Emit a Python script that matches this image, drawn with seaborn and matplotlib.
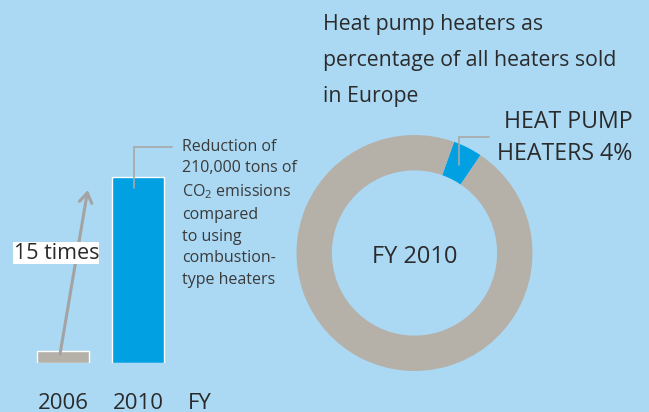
import matplotlib
matplotlib.use("Agg")
import matplotlib.pyplot as plt
import seaborn as sns
import numpy as np
import pandas as pd

# Data
years = ["2006", "2010"]
sales_index = [1, 15]            # heat pump heater sales, 2006 = 1
bar_colors = ["#B5B1A9", "#00A0E2"]
share_labels = ["Heat pump heaters", "Other heaters"]
share_values = [4, 96]          # % of all heaters sold in Europe, FY2010
ring_colors = ["#00A0E2", "#B5B1A9"]

BG = "#ABD9F4"
TXT = "#2B2B2B"
LINE = "#A8A8A8"

sns.set_style("white")
plt.rcParams["font.family"] = ["Open Sans", "DejaVu Sans"]
plt.rcParams["mathtext.fontset"] = "custom"
plt.rcParams["mathtext.rm"] = "Open Sans"
plt.rcParams["mathtext.it"] = "Open Sans:italic"

W, H = 649, 412
fig = plt.figure(figsize=(W / 100, H / 100), dpi=100, facecolor=BG)

# ---- bar chart: growth of sales ----
ax1 = fig.add_axes([0, 49 / H, 300 / W, 363 / H])
ax1.set_facecolor(BG)
df = pd.DataFrame({"year": years, "sales": sales_index})
sns.barplot(data=df, x="year", y="sales", hue="year", palette=bar_colors,
            legend=False, width=0.69, saturation=1, ax=ax1)
px_per_unit = 186 / sales_index[1]
ax1.set_xlim(-0.84, 3.16)
ax1.set_ylim(0, 363 / px_per_unit)
ax1.set_xlabel("")
ax1.set_ylabel("")
ax1.set_yticks([])
ax1.tick_params(axis="x", length=0, pad=21.5, labelsize=16, labelcolor=TXT)
for s in ax1.spines.values():
    s.set_visible(False)

# "FY" after the year labels
ax1.annotate("FY", xy=(1.83, 0), xycoords=ax1.get_xaxis_transform(),
             xytext=(0, -21.5), textcoords="offset points",
             ha="center", va="top", fontsize=16, color=TXT)

# growth arrow from 2006 level to 2010 level
ax1.annotate("", xy=(0.33, sales_index[1] * 0.93),
             xytext=(-0.04, sales_index[0] * 0.7),
             arrowprops=dict(arrowstyle="->,head_length=0.7,head_width=0.45",
                             color="#A3A3A3", lw=2.2, shrinkA=0, shrinkB=0))
ratio = sales_index[1] // sales_index[0]
ax1.text(-0.66, sales_index[1] * 0.59, f"{ratio} times", fontsize=15.5,
         color=TXT, ha="left", va="center",
         bbox=dict(facecolor="white", edgecolor="none", pad=0.3))

# callout from the 2010 bar
top = sales_index[1]
ax1.plot([0.95, 0.95, 1.45], [top - 0.9, top + 2.4, top + 2.4],
         color=LINE, lw=1.2, solid_joinstyle="miter")
ax1.text(1.59, top + 3.1,
         "Reduction of\n210,000 tons of\nCO$_\\mathrm{2}$ emissions\ncompared\n"
         "to using\ncombustion-\ntype heaters",
         fontsize=11.5, color="#3A3A3A", ha="left", va="top", linespacing=1.47)

# ---- donut: share of heat pump heaters ----
R_PX = 118
cx, cy = 414.5, 253
ax2 = fig.add_axes([(cx - R_PX) / W, (H - cy - R_PX) / H, 2 * R_PX / W, 2 * R_PX / H])
ax2.set_facecolor("none")
start = 56
wedges, _ = ax2.pie(share_values, colors=ring_colors, startangle=start,
                    counterclock=True, radius=1,
                    wedgeprops=dict(width=0.30, edgecolor="none"))
ax2.set_xlim(-1, 1)
ax2.set_ylim(-1, 1)
ax2.set_aspect("equal")
ax2.axis("off")

ax2.text(0, -0.03, "FY 2010", ha="center", va="center", fontsize=17, color=TXT)

mid = np.deg2rad(start + share_values[0] / 100 * 360 / 2)
ax_x, ax_y = 0.84 * np.cos(mid), 0.84 * np.sin(mid)
ax2.plot([ax_x, ax_x, ax_x + 0.25], [ax_y, 0.98, 0.98], color=LINE, lw=1.2,
         clip_on=False, solid_joinstyle="miter")
ax2.text(1.85, 1.21, f"HEAT PUMP\nHEATERS {share_values[0]}%", ha="right", va="top",
         fontsize=16.7, color=TXT, linespacing=1.45)

fig.text(323 / W, 1 - 14 / H,
         "Heat pump heaters as\npercentage of all heaters sold\nin Europe",
         ha="left", va="top", fontsize=15.3, color=TXT, linespacing=1.93)

fig.savefig("out.png", dpi=100, facecolor=BG)
